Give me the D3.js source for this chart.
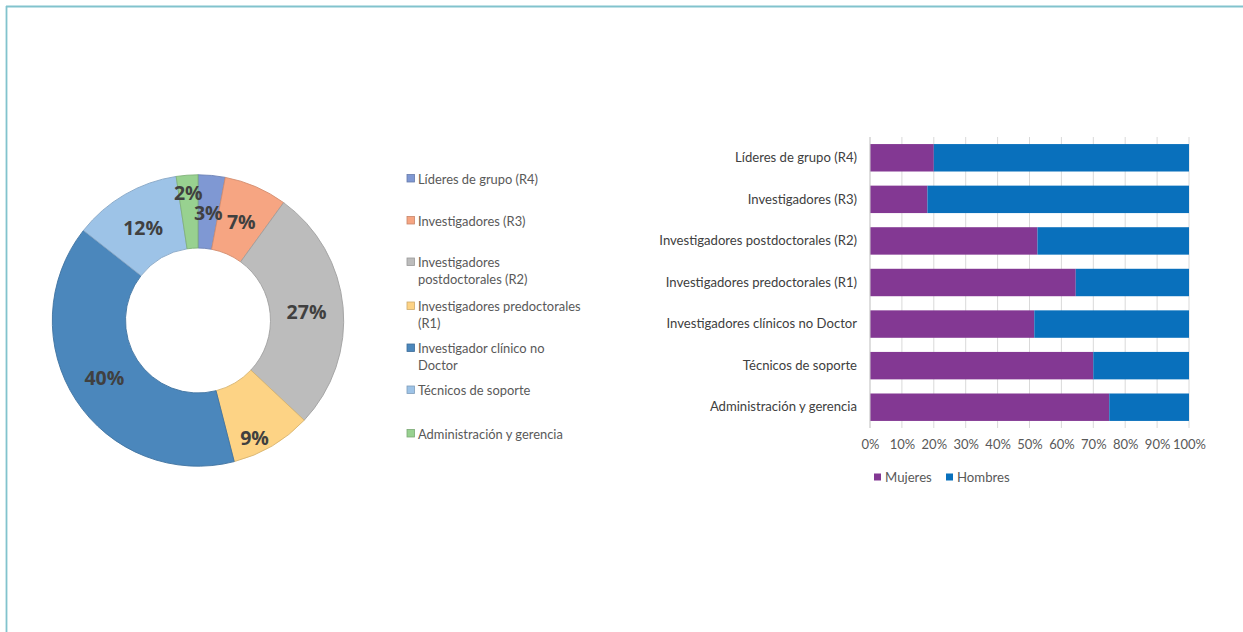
<!DOCTYPE html>
<html>
<head>
<meta charset="utf-8">
<script src="https://cdn.jsdelivr.net/npm/d3@7"></script>
<style>
  html, body { margin: 0; padding: 0; background: #fff; }
  svg { display: block; }
  text { font-family: Lato, "Open Sans", sans-serif; }
</style>
</head>
<body>
<svg id="chart" width="1243" height="632"></svg>
<script>
// ---------- DATA ----------
const donutCategories = [
  "Líderes de grupo (R4)",
  "Investigadores (R3)",
  "Investigadores\npostdoctorales (R2)",
  "Investigadores predoctorales\n(R1)",
  "Investigador clínico no\nDoctor",
  "Técnicos de soporte",
  "Administración y gerencia"
];
const donutValues = [3, 7, 27, 9, 39.6, 12, 2.4];
const donutColors = ["#7f98d3", "#f6a582", "#bcbcbc", "#fdd385", "#4b87bc", "#9dc3e7", "#98d190"];

const barCategories = [
  "Líderes de grupo (R4)",
  "Investigadores (R3)",
  "Investigadores postdoctorales (R2)",
  "Investigadores predoctorales (R1)",
  "Investigadores clínicos no Doctor",
  "Técnicos de soporte",
  "Administración y gerencia"
];
const mujeres = [20, 18, 52.5, 64.5, 51.5, 70, 75];
const hombres = [80, 82, 47.5, 35.5, 48.5, 30, 25];
const seriesNames = ["Mujeres", "Hombres"];
const seriesColors = ["#833893", "#0970bc"];
const xTicks = [0, 10, 20, 30, 40, 50, 60, 70, 80, 90, 100];

// ---------- SETUP ----------
const svg = d3.select("#chart");

// frame lines (top and left)
svg.append("line").attr("x1", 6).attr("x2", 1243).attr("y1", 6.5).attr("y2", 6.5)
  .attr("stroke", "#82c3cd").attr("stroke-width", 1.8);
svg.append("line").attr("x1", 6.5).attr("x2", 6.5).attr("y1", 6).attr("y2", 632)
  .attr("stroke", "#82c3cd").attr("stroke-width", 1.8);

// ---------- DONUT ----------
const cx = 198, cy = 320.5, rOuter = 145.7, rInner = 72.5;
const pie = d3.pie().sort(null).value(d => d)(donutValues);
const arc = d3.arc().innerRadius(rInner).outerRadius(rOuter);
const g = svg.append("g").attr("transform", `translate(${cx},${cy})`);
g.selectAll("path").data(pie).join("path")
  .attr("d", arc)
  .attr("fill", (d, i) => donutColors[i])
  .attr("stroke", (d, i) => d3.color(donutColors[i]).darker(0.45))
  .attr("stroke-width", 0.9);

// labels: small slices get pushed outward (best fit)
const labelR = (d, i) => (i === 3 || i === 6) ? 129 : 109;
const labelA = (d, i) => (d.startAngle + d.endAngle) / 2 + (i === 3 ? 0.08 : 0) + (i === 4 ? 0.04 : 0);
g.selectAll("text.pct").data(pie).join("text")
  .attr("class", "pct")
  .attr("x", (d, i) => Math.sin(labelA(d, i)) * labelR(d, i))
  .attr("y", (d, i) => -Math.cos(labelA(d, i)) * labelR(d, i) + 1)
  .attr("text-anchor", "middle")
  .attr("dominant-baseline", "central")
  .attr("font-size", 19.5)
  .attr("font-weight", "bold")
  .attr("fill", "#404040")
  .style("font-family", "'Open Sans', sans-serif")
  .text(d => Math.round(d.value) + "%");

// donut legend
const legendY = [178.5, 220.5, 262, 306, 348, 390, 433.5];
const lg = svg.append("g");
donutCategories.forEach((name, i) => {
  const y = legendY[i];
  lg.append("rect").attr("x", 407).attr("y", y - 4).attr("width", 7.5).attr("height", 7.5)
    .attr("fill", donutColors[i]).attr("stroke", d3.color(donutColors[i]).darker(0.6)).attr("stroke-width", 0.8);
  const t = lg.append("text").attr("x", 418).attr("y", y)
    .attr("dominant-baseline", "central")
    .attr("font-size", 12.9).attr("fill", "#595959");
  name.split("\n").forEach((line, j) => {
    t.append("tspan").attr("x", 418).attr("dy", j === 0 ? 0 : 17).text(line);
  });
});

// ---------- STACKED BAR ----------
const x = d3.scaleLinear().domain([0, 100]).range([870, 1189]);
const y = d3.scaleBand().domain(barCategories).range([137, 428]).paddingInner(0.34).paddingOuter(0.17);

// gridlines
svg.append("g").selectAll("line").data(xTicks).join("line")
  .attr("x1", d => x(d)).attr("x2", d => x(d))
  .attr("y1", 137).attr("y2", 428)
  .attr("stroke", "#d9d9d9").attr("stroke-width", 1);

const stackData = barCategories.map((c, i) => ({ cat: c, Mujeres: mujeres[i], Hombres: hombres[i] }));
const stack = d3.stack().keys(seriesNames)(stackData);
svg.append("g").selectAll("g").data(stack).join("g")
  .attr("fill", (d, i) => seriesColors[i])
  .selectAll("rect").data(d => d).join("rect")
  .attr("x", d => x(d[0]))
  .attr("width", d => x(d[1]) - x(d[0]))
  .attr("y", d => y(d.data.cat))
  .attr("height", y.bandwidth());

// vertical axis line
svg.append("line").attr("x1", 870).attr("x2", 870).attr("y1", 137).attr("y2", 428)
  .attr("stroke", "#d0d0d0").attr("stroke-width", 1);

// category labels
const yAxis = d3.axisLeft(y).tickSize(0).tickPadding(0);
const ya = svg.append("g").attr("transform", "translate(857,0)").call(yAxis);
ya.select(".domain").remove();
ya.selectAll("text").attr("font-size", 13.1).attr("fill", "#404040")
  .style("font-family", "Lato, sans-serif");

// x tick labels
const xAxis = d3.axisBottom(x).tickValues(xTicks).tickFormat(d => d + "%").tickSize(0).tickPadding(0);
const xa = svg.append("g").attr("transform", "translate(0,440)").call(xAxis);
xa.select(".domain").remove();
xa.selectAll("text").attr("font-size", 13).attr("fill", "#595959")
  .style("font-family", "Lato, sans-serif");

// bar legend
const bl = svg.append("g");
const legX = [874, 946];
seriesNames.forEach((s, i) => {
  bl.append("rect").attr("x", legX[i]).attr("y", 473.5).attr("width", 7).attr("height", 7).attr("fill", seriesColors[i]);
  bl.append("text").attr("x", legX[i] + 11).attr("y", 477).attr("dominant-baseline", "central")
    .attr("font-size", 13.2).attr("fill", "#595959").text(s);
});
</script>
</body>
</html>
